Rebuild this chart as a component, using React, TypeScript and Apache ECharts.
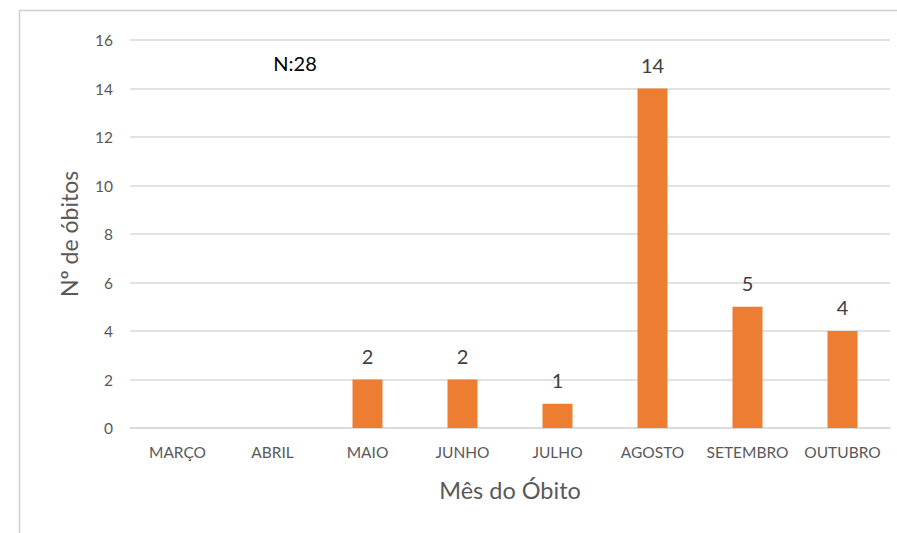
import React, { useEffect, useRef } from "react";
import * as echarts from "echarts";

const categories = ["MARÇO", "ABRIL", "MAIO", "JUNHO", "JULHO", "AGOSTO", "SETEMBRO", "OUTUBRO"];
const obitos = [0, 0, 2, 2, 1, 14, 5, 4];
const yTicks = { min: 0, max: 16, interval: 2 };
const annotation = "N:28";
const yTitle = "Nº de óbitos";
const xTitle = "Mês do Óbito";

export default function App() {
  const ref = useRef<HTMLDivElement>(null);
  useEffect(() => {
    if (!ref.current) return;
    const chart = echarts.init(ref.current, null, { renderer: "svg" });
    const font = "Lato, 'Liberation Sans', sans-serif";
    chart.setOption({
      animation: false,
      textStyle: { fontFamily: font },
      grid: { left: 130, right: 7, top: 40, bottom: 105 },
      graphic: [
        {
          type: "rect",
          shape: { x: 19.5, y: 10.5, width: 1000, height: 1000 },
          style: { fill: "none", stroke: "#cfcfcf", lineWidth: 1.5 },
        },
        {
          type: "text",
          x: 295,
          y: 63,
          style: { text: annotation, font: `20px ${font}`, fill: "#000", textAlign: "center", textVerticalAlign: "middle" },
        },
      ],
      xAxis: {
        type: "category",
        data: categories,
        axisLine: { show: true, lineStyle: { color: "#d9d9d9", width: 1.5 } },
        axisTick: { show: false },
        axisLabel: { color: "#595959", fontSize: 15.5, margin: 16, fontFamily: font, interval: 0, hideOverlap: false },
        name: xTitle,
        nameLocation: "middle",
        nameGap: 50,
        nameTextStyle: { color: "#595959", fontSize: 23.5, fontFamily: font },
      },
      yAxis: {
        type: "value",
        min: yTicks.min,
        max: yTicks.max,
        interval: yTicks.interval,
        axisLine: { show: false },
        axisTick: { show: false },
        splitLine: { lineStyle: { color: "#d9d9d9", width: 1.5 } },
        axisLabel: { color: "#595959", fontSize: 15.5, margin: 17, fontFamily: font },
        name: yTitle,
        nameLocation: "middle",
        nameGap: 50,
        nameRotate: 90,
        nameTextStyle: { color: "#595959", fontSize: 23, fontFamily: font },
      },
      series: [
        {
          type: "bar",
          data: obitos.map((v) => (v === 0 ? null : v)),
          barWidth: 30,
          itemStyle: { color: "#ED7D31" },
          label: {
            show: true,
            position: "top",
            distance: 14,
            color: "#404040",
            fontSize: 20,
            fontFamily: font,
          },
        },
      ],
    });
    return () => chart.dispose();
  }, []);
  return (
    <div
      ref={ref}
      style={{ position: "fixed", left: 0, top: 0, width: 897, height: 533, background: "#fff" }}
    />
  );
}
